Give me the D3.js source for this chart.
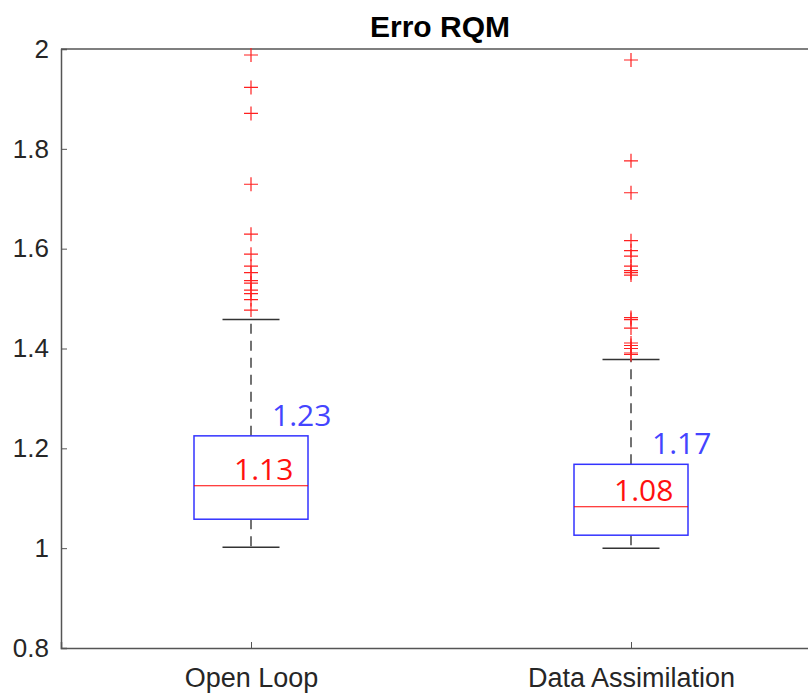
<html lang="en">
<head>
<meta charset="utf-8">
<script src="https://d3js.org/d3.v7.min.js"></script>
<style>
  body { margin: 0; background: #fff; }
  text { font-family: "Liberation Sans", Arial, sans-serif; }
</style>
</head>
<body>
<div id="graph"></div>
<script>
// box statistics
var categories = ["Open Loop", "Data Assimilation"];
var q1 = [1.058, 1.026];
var median = [1.125, 1.083];
var q3 = [1.225, 1.168];
var whiskerLow = [1.002, 1.0];
var whiskerHigh = [1.458, 1.378];
var medianLabels = ["1.13", "1.08"];
var q3Labels = ["1.23", "1.17"];

var outliersOL = [1.988, 1.923, 1.871, 1.729, 1.629, 1.589, 1.565, 1.552, 1.536,
                  1.531, 1.517, 1.510, 1.498, 1.477];
var outliersDA = [1.978, 1.776, 1.712, 1.616, 1.596, 1.585, 1.565, 1.556, 1.552,
                  1.547, 1.462, 1.458, 1.441, 1.411, 1.406, 1.400, 1.391, 1.388];
var outliers = [outliersOL, outliersDA];

var yTicks = [0.8, 1, 1.2, 1.4, 1.6, 1.8, 2];

var W = 808, H = 693;
var svg = d3.select('#graph').append('svg').attr('width', W).attr('height', H);

var xScale = d3.scaleLinear().domain([0.5, 2.5]).range([61, 821]);
var yScale = d3.scaleLinear().domain([0.8, 2]).range([648, 49]);
var ink = "#262626";

// frame: top line, left and bottom axes
svg.append('line').attr('x1', xScale(0.5)).attr('x2', xScale(2.5))
  .attr('y1', yScale(2)).attr('y2', yScale(2))
  .attr('stroke', '#555').attr('stroke-width', 1.5);

var yAxis = d3.axisLeft(yScale).tickValues(yTicks).tickSize(-6).tickPadding(12)
  .tickFormat(function(d){ return d3.format("~g")(d); });
var ga = svg.append('g').attr('transform', 'translate(' + xScale(0.5) + ',0)').call(yAxis);
ga.select('.domain').attr('stroke', '#555').attr('stroke-width', 1.5);
ga.selectAll('.tick line').attr('stroke', '#555');
ga.selectAll('.tick text').attr('fill', ink).style('font-size', '26px')
  .style('font-family', '"Liberation Sans", Arial, sans-serif');

var xAxis = d3.axisBottom(xScale).tickValues([1, 2]).tickSize(-6).tickPadding(14)
  .tickFormat(function(d){ return categories[d - 1]; });
var gx = svg.append('g').attr('transform', 'translate(0,' + yScale(0.8) + ')').call(xAxis);
gx.select('.domain').attr('stroke', '#555').attr('stroke-width', 1.5);
gx.selectAll('.tick line').attr('stroke', '#555');
gx.selectAll('.tick text').attr('fill', ink).style('font-size', '27px')
  .attr('y', 39).attr('dy', 0)
  .style('font-family', '"Liberation Sans", Arial, sans-serif');

// title
svg.append('text').attr('x', xScale(1.5) - 1).attr('y', 37)
  .attr('text-anchor', 'middle').attr('fill', '#000')
  .style('font-size', '30px').style('font-weight', 'bold')
  .text('Erro RQM');

var boxW = 0.3, capW = 0.15;

categories.forEach(function(c, i) {
  var x = i + 1;
  var g = svg.append('g');

  // dashed whiskers
  g.append('line').attr('x1', xScale(x)).attr('x2', xScale(x))
    .attr('y1', yScale(q3[i])).attr('y2', yScale(whiskerHigh[i]))
    .attr('stroke', '#444').attr('stroke-width', 1.5).attr('stroke-dasharray', '10,7');
  g.append('line').attr('x1', xScale(x)).attr('x2', xScale(x))
    .attr('y1', yScale(q1[i])).attr('y2', yScale(whiskerLow[i]))
    .attr('stroke', '#444').attr('stroke-width', 1.5).attr('stroke-dasharray', '10,7');

  // caps
  [whiskerHigh[i], whiskerLow[i]].forEach(function(v) {
    g.append('line').attr('x1', xScale(x - capW / 2)).attr('x2', xScale(x + capW / 2))
      .attr('y1', yScale(v)).attr('y2', yScale(v))
      .attr('stroke', '#333').attr('stroke-width', 1.5);
  });

  // box
  g.append('rect').attr('x', xScale(x - boxW / 2)).attr('y', yScale(q3[i]))
    .attr('width', xScale(x + boxW / 2) - xScale(x - boxW / 2))
    .attr('height', yScale(q1[i]) - yScale(q3[i]))
    .attr('fill', 'none').attr('stroke', '#3333ff').attr('stroke-width', 1.5);

  // median
  g.append('line').attr('x1', xScale(x - boxW / 2)).attr('x2', xScale(x + boxW / 2))
    .attr('y1', yScale(median[i])).attr('y2', yScale(median[i]))
    .attr('stroke', '#ff0000').attr('stroke-width', 1.2);

  // outliers as plus signs
  g.selectAll('.out').data(outliers[i]).enter().append('path').attr('class', 'out')
    .attr('d', function(d) {
      var cx = xScale(x), cy = yScale(d), s = 7;
      return 'M' + (cx - s) + ',' + cy + 'H' + (cx + s) + 'M' + cx + ',' + (cy - s) + 'V' + (cy + s);
    })
    .attr('stroke', '#ff2020').attr('stroke-width', 1.2).attr('fill', 'none');

  // annotations
  g.append('text').attr('x', xScale(x) + 21).attr('y', yScale(q3[i]) - 10)
    .attr('fill', '#4444ff').style('font-size', '30px')
    .style('font-family', '"Open Sans", "Noto Sans", sans-serif')
    .text(q3Labels[i]);
  g.append('text').attr('x', xScale(x) - 17).attr('y', yScale(median[i]) - 6)
    .attr('fill', '#ff1010').style('font-size', '30px')
    .style('font-family', '"Open Sans", "Noto Sans", sans-serif')
    .text(medianLabels[i]);
});
</script>
</body>
</html>
